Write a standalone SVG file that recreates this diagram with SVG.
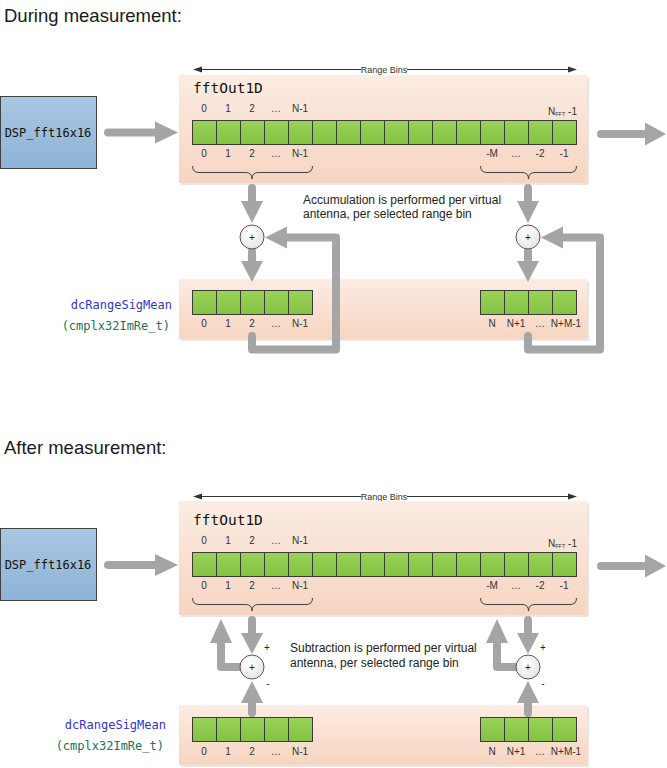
<svg xmlns="http://www.w3.org/2000/svg" width="667" height="768" viewBox="0 0 667 768">
<defs>
<linearGradient id="peach" x1="0" y1="0" x2="0" y2="1"><stop offset="0" stop-color="#fcece2"/><stop offset="1" stop-color="#f6d5c1"/></linearGradient>
<linearGradient id="blue" x1="0" y1="0" x2="0" y2="1"><stop offset="0" stop-color="#a9c6e1"/><stop offset="1" stop-color="#8eb3d7"/></linearGradient>
<linearGradient id="green" x1="0" y1="0" x2="0" y2="1"><stop offset="0" stop-color="#9ad35b"/><stop offset="1" stop-color="#82c241"/></linearGradient>
<radialGradient id="circ" cx="0.4" cy="0.35" r="0.7"><stop offset="0" stop-color="#ffffff"/><stop offset="1" stop-color="#e4e4e4"/></radialGradient>
</defs>
<style>
.title{font-family:"Liberation Sans",Arial,sans-serif;font-size:18.5px;fill:#1a1a1a}
.mono{font-family:"DejaVu Sans Mono","Liberation Mono",monospace}
.idx{font-family:"Liberation Sans",Arial,sans-serif;font-size:10px;fill:#333;text-anchor:middle}
.note{font-family:"Liberation Sans",Arial,sans-serif;font-size:12px;fill:#222}
.rb{font-family:"Liberation Sans",Arial,sans-serif;font-size:9px;fill:#333;text-anchor:middle}
.panel{fill:url(#peach)}
.shadow{fill:#e6e6e6}
.cells{fill:url(#green);stroke:#3a3a3a;stroke-width:1}
.div{stroke:#3a3a3a;stroke-width:1;fill:none}
.brace{stroke:#404040;stroke-width:1;fill:none}
.thin{stroke:#333;stroke-width:1;fill:none}
.shaft{stroke:#a5a5a5;stroke-width:8;stroke-linecap:round;stroke-linejoin:round;fill:none}
.head{fill:#a5a5a5}
.sum{fill:url(#circ);stroke:#555;stroke-width:1}
.sumtxt{font-family:"Liberation Sans",Arial,sans-serif;font-size:10px;fill:#222;text-anchor:middle}
</style>
<rect width="667" height="768" fill="#ffffff"/>

<text class="title" x="4" y="22">During measurement:</text>
<text class="title" x="4" y="454">After measurement:</text>

<!-- ===== TOP SECTION ===== -->
<g id="dsp-top">
<rect x="0.5" y="96.5" width="96" height="72" fill="url(#blue)" stroke="#404040"/>
<text class="mono" x="48" y="137" font-size="12" text-anchor="middle" fill="#111">DSP_fft16x16</text>
</g>

<g id="rangebins-top">
<line class="thin" x1="200" y1="69.5" x2="570" y2="69.5"/>
<polygon points="193,69.5 202,66.5 202,72.5" fill="#333"/>
<polygon points="577,69.5 568,66.5 568,72.5" fill="#333"/>
<rect x="361" y="64" width="46" height="10" fill="#fff"/>
<text class="rb" x="384" y="72.5">Range Bins</text>
</g>

<g id="fftOut1D-top">
<rect class="shadow" x="181" y="77" width="408" height="108"/>
<rect class="panel" x="179" y="75" width="408" height="108"/>
<text class="mono" x="193" y="93" font-size="14.5" fill="#111">fftOut1D</text>
<text class="idx" x="204" y="112">0</text><text class="idx" x="228" y="112">1</text><text class="idx" x="252" y="112">2</text><text class="idx" x="276" y="112">…</text><text class="idx" x="300" y="112">N-1</text>
<text x="577" y="115" text-anchor="end" font-family="Liberation Sans,Arial,sans-serif" font-size="10" fill="#333">N<tspan font-size="5.5" dy="1">FFT</tspan><tspan dy="-1"> -1</tspan></text>
<rect class="cells" x="192.5" y="120.5" width="384" height="24"/>
<path class="div" d="M216.5,120.5v24M240.5,120.5v24M264.5,120.5v24M288.5,120.5v24M312.5,120.5v24M336.5,120.5v24M360.5,120.5v24M384.5,120.5v24M408.5,120.5v24M432.5,120.5v24M456.5,120.5v24M480.5,120.5v24M504.5,120.5v24M528.5,120.5v24M552.5,120.5v24"/>
<text class="idx" x="204" y="157">0</text><text class="idx" x="228" y="157">1</text><text class="idx" x="252" y="157">2</text><text class="idx" x="276" y="157">…</text><text class="idx" x="300" y="157">N-1</text>
<text class="idx" x="492" y="157">-M</text><text class="idx" x="516" y="157">…</text><text class="idx" x="540" y="157">-2</text><text class="idx" x="564" y="157">-1</text>
<path class="brace" d="M192.5,166Q192.5,172.5 199,172.5H245.5Q252,172.5 252,179Q252,172.5 258.5,172.5H306Q312.5,172.5 312.5,166"/>
<path class="brace" d="M480.5,166Q480.5,172.5 487,172.5H522Q528.5,172.5 528.5,179Q528.5,172.5 535,172.5H570Q576.5,172.5 576.5,166"/>
</g>

<g id="note-top">
<text class="note" x="303" y="204">Accumulation is performed per virtual</text>
<text class="note" x="303" y="218">antenna, per selected range bin</text>
</g>

<g id="dc-top">
<rect class="shadow" x="181" y="281" width="408" height="60"/>
<rect class="panel" x="179" y="279" width="408" height="60"/>
<text class="mono" x="172" y="309" font-size="12" text-anchor="end" fill="#3333cc">dcRangeSigMean</text>
<text class="mono" x="170" y="330" font-size="12" text-anchor="end" fill="#22705a">(cmplx32ImRe_t)</text>
<rect class="cells" x="192.5" y="290.5" width="120" height="24"/>
<path class="div" d="M216.5,290.5v24M240.5,290.5v24M264.5,290.5v24M288.5,290.5v24"/>
<rect class="cells" x="480.5" y="290.5" width="96" height="24"/>
<path class="div" d="M504.5,290.5v24M528.5,290.5v24M552.5,290.5v24"/>
<text class="idx" x="204" y="327">0</text><text class="idx" x="228" y="327">1</text><text class="idx" x="252" y="327">2</text><text class="idx" x="276" y="327">…</text><text class="idx" x="300" y="327">N-1</text>
<text class="idx" x="492" y="327">N</text><text class="idx" x="516" y="327">N+1</text><text class="idx" x="540" y="327">…</text><text class="idx" x="566" y="327">N+M-1</text>
</g>

<!-- ===== BOTTOM SECTION ===== -->
<g id="dsp-bottom">
<rect x="0.5" y="528.5" width="96" height="72" fill="url(#blue)" stroke="#404040"/>
<text class="mono" x="48" y="569" font-size="12" text-anchor="middle" fill="#111">DSP_fft16x16</text>
</g>

<g id="rangebins-bottom">
<line class="thin" x1="200" y1="496.5" x2="570" y2="496.5"/>
<polygon points="193,496.5 202,493.5 202,499.5" fill="#333"/>
<polygon points="577,496.5 568,493.5 568,499.5" fill="#333"/>
<rect x="361" y="491" width="46" height="10" fill="#fff"/>
<text class="rb" x="384" y="499.5">Range Bins</text>
</g>

<g id="fftOut1D-bottom">
<rect class="shadow" x="181" y="503" width="408" height="114"/>
<rect class="panel" x="179" y="501" width="408" height="114"/>
<text class="mono" x="193" y="525" font-size="14.5" fill="#111">fftOut1D</text>
<text class="idx" x="204" y="544">0</text><text class="idx" x="228" y="544">1</text><text class="idx" x="252" y="544">2</text><text class="idx" x="276" y="544">…</text><text class="idx" x="300" y="544">N-1</text>
<text x="577" y="547" text-anchor="end" font-family="Liberation Sans,Arial,sans-serif" font-size="10" fill="#333">N<tspan font-size="5.5" dy="1">FFT</tspan><tspan dy="-1"> -1</tspan></text>
<rect class="cells" x="192.5" y="552.5" width="384" height="24"/>
<path class="div" d="M216.5,552.5v24M240.5,552.5v24M264.5,552.5v24M288.5,552.5v24M312.5,552.5v24M336.5,552.5v24M360.5,552.5v24M384.5,552.5v24M408.5,552.5v24M432.5,552.5v24M456.5,552.5v24M480.5,552.5v24M504.5,552.5v24M528.5,552.5v24M552.5,552.5v24"/>
<text class="idx" x="204" y="589">0</text><text class="idx" x="228" y="589">1</text><text class="idx" x="252" y="589">2</text><text class="idx" x="276" y="589">…</text><text class="idx" x="300" y="589">N-1</text>
<text class="idx" x="492" y="589">-M</text><text class="idx" x="516" y="589">…</text><text class="idx" x="540" y="589">-2</text><text class="idx" x="564" y="589">-1</text>
<path class="brace" d="M192.5,598Q192.5,604.5 199,604.5H245.5Q252,604.5 252,611Q252,604.5 258.5,604.5H306Q312.5,604.5 312.5,598"/>
<path class="brace" d="M480.5,598Q480.5,604.5 487,604.5H522Q528.5,604.5 528.5,611Q528.5,604.5 535,604.5H570Q576.5,604.5 576.5,598"/>
</g>

<g id="note-bottom">
<text class="note" x="290" y="652">Subtraction is performed per virtual</text>
<text class="note" x="290" y="667">antenna, per selected range bin</text>
</g>

<g id="dc-bottom">
<rect class="shadow" x="181" y="707" width="408" height="60"/>
<rect class="panel" x="179" y="705" width="408" height="60"/>
<text class="mono" x="166" y="729" font-size="12" text-anchor="end" fill="#3333cc">dcRangeSigMean</text>
<text class="mono" x="164" y="750" font-size="12" text-anchor="end" fill="#22705a">(cmplx32ImRe_t)</text>
<rect class="cells" x="192.5" y="717.5" width="120" height="24"/>
<path class="div" d="M216.5,717.5v24M240.5,717.5v24M264.5,717.5v24M288.5,717.5v24"/>
<rect class="cells" x="480.5" y="717.5" width="96" height="24"/>
<path class="div" d="M504.5,717.5v24M528.5,717.5v24M552.5,717.5v24"/>
<text class="idx" x="204" y="755">0</text><text class="idx" x="228" y="755">1</text><text class="idx" x="252" y="755">2</text><text class="idx" x="276" y="755">…</text><text class="idx" x="300" y="755">N-1</text>
<text class="idx" x="492" y="755">N</text><text class="idx" x="516" y="755">N+1</text><text class="idx" x="540" y="755">…</text><text class="idx" x="566" y="755">N+M-1</text>
</g>

<!-- ===== CONNECTORS ===== -->
<g id="connectors">
<!-- top -->
<line class="shaft" x1="108" y1="132.5" x2="157" y2="132.5"/><polygon class="head" points="155,121.5 178,132.5 155,143.5"/>
<line class="shaft" x1="601" y1="134" x2="647" y2="134"/><polygon class="head" points="645,122.5 666,134 645,145.5"/>
<line class="shaft" x1="252" y1="188" x2="252" y2="203"/><polygon class="head" points="241,201 263,201 252,223"/>
<line class="shaft" x1="252" y1="251" x2="252" y2="263"/><polygon class="head" points="241,261 263,261 252,282"/>
<path class="shaft" d="M252,336V349.5H336V237.5H286"/><polygon class="head" points="287,226.5 287,248.5 265,237.5"/>
<line class="shaft" x1="528" y1="188" x2="528" y2="203"/><polygon class="head" points="517,201 539,201 528,223"/>
<line class="shaft" x1="528" y1="251" x2="528" y2="263"/><polygon class="head" points="517,261 539,261 528,282"/>
<path class="shaft" d="M528,336V349.5H600V237.5H562"/><polygon class="head" points="563,226.5 563,248.5 541,237.5"/>
<!-- bottom -->
<line class="shaft" x1="108" y1="565" x2="157" y2="565"/><polygon class="head" points="155,554 178,565 155,576"/>
<line class="shaft" x1="601" y1="566" x2="647" y2="566"/><polygon class="head" points="645,554.5 666,566 645,577.5"/>
<line class="shaft" x1="252" y1="620" x2="252" y2="635"/><polygon class="head" points="241,633 263,633 252,654"/>
<line class="shaft" x1="252" y1="713" x2="252" y2="701"/><polygon class="head" points="241,703 263,703 252,681"/>
<path class="shaft" d="M240,667H221V641"/><polygon class="head" points="210,643 232,643 221,619"/>
<line class="shaft" x1="528" y1="620" x2="528" y2="635"/><polygon class="head" points="517,633 539,633 528,654"/>
<line class="shaft" x1="528" y1="713" x2="528" y2="701"/><polygon class="head" points="517,703 539,703 528,681"/>
<path class="shaft" d="M516,667H497V641"/><polygon class="head" points="486,643 508,643 497,619"/>
</g>

<g id="sum-top-left"><circle class="sum" cx="252" cy="237" r="12"/><text class="sumtxt" x="252" y="240.5">+</text></g>
<g id="sum-top-right"><circle class="sum" cx="528" cy="237" r="12"/><text class="sumtxt" x="528" y="240.5">+</text></g>
<g id="sum-bottom-left"><circle class="sum" cx="252" cy="667" r="12"/><text class="sumtxt" x="252" y="670.5">+</text>
<text class="sumtxt" x="267" y="651">+</text><text class="sumtxt" x="268" y="687">-</text></g>
<g id="sum-bottom-right"><circle class="sum" cx="528" cy="667" r="12"/><text class="sumtxt" x="528" y="670.5">+</text>
<text class="sumtxt" x="543" y="651">+</text><text class="sumtxt" x="543" y="687">-</text></g>
</svg>
